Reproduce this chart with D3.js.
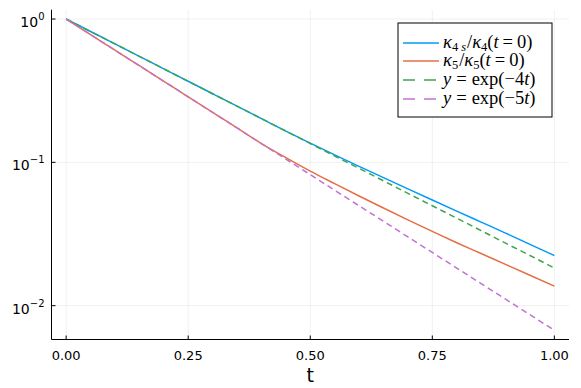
<!DOCTYPE html>
<html>
<head>
<meta charset="utf-8">
<script src="https://cdn.jsdelivr.net/npm/d3@7"></script>
<style>
  body { margin: 0; background: #fff; }
  svg { display: block; }
  .tick-label { font-family: "DejaVu Sans", sans-serif; font-size: 13px; fill: #000; }
  .math { font-family: "Liberation Serif", "DejaVu Serif", serif; font-size: 18.5px; fill: #000; }
</style>
</head>
<body>
<div id="chart"></div>
<script>
// sample times
const tValues = [0, 0.05, 0.1, 0.15, 0.2, 0.25, 0.3, 0.35, 0.4, 0.45, 0.5,
  0.55, 0.6, 0.65, 0.7, 0.75, 0.8, 0.85, 0.9, 0.95, 1.0];

// kappa_4s / kappa_4(t=0)
const kappa4s = [1, 0.8187, 0.6703, 0.5488, 0.4493, 0.3679, 0.3012, 0.2466, 0.2019, 0.1653, 0.1361,
  0.1127, 0.0938, 0.0782, 0.0653, 0.0546, 0.0457, 0.0383, 0.0321, 0.0268, 0.0224];

// kappa_5 / kappa_5(t=0)
const kappa5 = [1, 0.7788, 0.6065, 0.4724, 0.3679, 0.2865, 0.2231, 0.1738, 0.1353, 0.1079, 0.0869,
  0.0710, 0.0582, 0.0480, 0.0397, 0.0330, 0.0275, 0.0231, 0.0194, 0.0163, 0.0137];

// y = exp(-4t)
const exp4 = [1, 0.8187, 0.6703, 0.5488, 0.4493, 0.3679, 0.3012, 0.2466, 0.2019, 0.1653, 0.1353,
  0.1108, 0.0907, 0.0743, 0.0608, 0.0498, 0.0408, 0.0334, 0.0273, 0.0224, 0.0183];

// y = exp(-5t)
const exp5 = [1, 0.7788, 0.6065, 0.4724, 0.3679, 0.2865, 0.2231, 0.1738, 0.1353, 0.1054, 0.0821,
  0.0639, 0.0498, 0.0388, 0.0302, 0.0235, 0.0183, 0.01426, 0.0111, 0.00865, 0.00674];

const xTicks = [0, 0.25, 0.5, 0.75, 1.0];
const xTickLabels = ['0.00', '0.25', '0.50', '0.75', '1.00'];
const yTicks = [1, 0.1, 0.01];
const yTickExps = ['0', '\u22121', '\u22122'];

const W = 581, H = 388;
const pLeft = 51.5, pRight = 569, pTop = 9.7, pBottom = 339.5;

const svg = d3.select('#chart').append('svg')
  .attr('width', W).attr('height', H);

const x = d3.scaleLinear().domain([-0.03, 1.03]).range([pLeft, pRight]);
const y = d3.scaleLog().domain([Math.pow(10, -2.236), Math.pow(10, 0.065)]).range([pBottom, pTop]);

// grid
svg.append('g').selectAll('line')
  .data(xTicks).enter().append('line')
  .attr('x1', d => x(d)).attr('x2', d => x(d))
  .attr('y1', pTop).attr('y2', pBottom)
  .attr('stroke', '#000').attr('stroke-opacity', 0.1).attr('stroke-width', 0.6);
svg.append('g').selectAll('line')
  .data(yTicks).enter().append('line')
  .attr('x1', pLeft).attr('x2', pRight)
  .attr('y1', d => y(d)).attr('y2', d => y(d))
  .attr('stroke', '#000').attr('stroke-opacity', 0.1).attr('stroke-width', 0.6);

// axes
svg.append('line').attr('x1', pLeft).attr('x2', pLeft).attr('y1', pTop).attr('y2', pBottom)
  .attr('stroke', '#000').attr('stroke-width', 1);
svg.append('line').attr('x1', pLeft).attr('x2', pRight).attr('y1', pBottom).attr('y2', pBottom)
  .attr('stroke', '#000').attr('stroke-width', 1);

// ticks (inward)
svg.append('g').selectAll('line')
  .data(xTicks).enter().append('line')
  .attr('x1', d => x(d)).attr('x2', d => x(d))
  .attr('y1', pBottom).attr('y2', pBottom - 4)
  .attr('stroke', '#000');
svg.append('g').selectAll('line')
  .data(yTicks).enter().append('line')
  .attr('x1', pLeft).attr('x2', pLeft + 4)
  .attr('y1', d => y(d)).attr('y2', d => y(d))
  .attr('stroke', '#000');

// tick labels
svg.append('g').selectAll('text')
  .data(xTicks).enter().append('text')
  .attr('class', 'tick-label')
  .attr('x', d => x(d)).attr('y', pBottom + 20)
  .attr('text-anchor', 'middle')
  .text((d, i) => xTickLabels[i]);

const yl = svg.append('g').selectAll('text')
  .data(yTicks).enter().append('text')
  .attr('class', 'tick-label')
  .attr('x', pLeft - 7).attr('y', d => y(d) + 8)
  .attr('text-anchor', 'end');
yl.append('tspan').style('font-size', '14px').text('10');
yl.append('tspan').attr('dy', -7).style('font-size', '10px').text((d, i) => yTickExps[i]);

// x label
svg.append('text')
  .attr('x', x(0.5)).attr('y', 382)
  .attr('text-anchor', 'middle')
  .style('font-family', '"DejaVu Sans", sans-serif').style('font-size', '19px')
  .text('t');

// series
svg.append('clipPath').attr('id', 'clip').append('rect')
  .attr('x', pLeft).attr('y', pTop).attr('width', pRight - pLeft).attr('height', pBottom - pTop);

const series = [
  { name: 'k4s', vals: kappa4s, color: '#009AFA', dash: null, lgDash: null },
  { name: 'k5', vals: kappa5, color: '#E36F47', dash: null, lgDash: null },
  { name: 'e4', vals: exp4, color: '#3EA44E', dash: '6,4', lgDash: '12,9' },
  { name: 'e5', vals: exp5, color: '#C371D2', dash: '6,4', lgDash: '12,9' }
];

const line = d3.line()
  .x((d, i) => x(tValues[i]))
  .y(d => y(d))
  .curve(d3.curveMonotoneX);

svg.append('g').attr('clip-path', 'url(#clip)')
  .selectAll('path')
  .data(series).enter().append('path')
  .attr('d', d => line(d.vals))
  .attr('fill', 'none')
  .attr('stroke', d => d.color)
  .attr('stroke-width', 1.5)
  .attr('stroke-dasharray', d => d.dash);

// legend
const lg = svg.append('g').attr('transform', 'translate(398,23)');
lg.append('rect').attr('width', 154).attr('height', 94)
  .attr('fill', '#fff').attr('stroke', '#000').attr('stroke-width', 1);

const rowsY = [20, 38, 57, 76];
series.forEach((s, i) => {
  lg.append('line')
    .attr('x1', 5).attr('x2', 41)
    .attr('y1', rowsY[i]).attr('y2', rowsY[i])
    .attr('stroke', s.color).attr('stroke-width', 1.5)
    .attr('stroke-dasharray', s.lgDash);
});

// one text per legend row; tspans for italics and subscripts
function mathText(g, yy, parts) {
  const t = g.append('text').attr('class', 'math').attr('x', 45).attr('y', yy + 5);
  parts.forEach(p => {
    const ts = t.append('tspan').text(p.s);
    if (p.i) ts.style('font-style', 'italic');
    if (p.sub) ts.style('font-size', '12.5px');
    if (p.dy) ts.attr('dy', p.dy);
    if (p.dx) ts.attr('dx', p.dx);
  });
}

mathText(lg, rowsY[0], [
  { s: '\u03BA', i: 1 }, { s: '4', sub: 1, dy: 3 }, { s: 's', sub: 1, i: 1, dx: 3 },
  { s: '/', dy: -3, dx: 1 }, { s: '\u03BA', i: 1 }, { s: '4', sub: 1, dy: 3 },
  { s: '(', dy: -3 }, { s: 't', i: 1 }, { s: '=', dx: 4 }, { s: '0)', dx: 4 }
]);
mathText(lg, rowsY[1], [
  { s: '\u03BA', i: 1 }, { s: '5', sub: 1, dy: 3 },
  { s: '/', dy: -3, dx: 1 }, { s: '\u03BA', i: 1 }, { s: '5', sub: 1, dy: 3 },
  { s: '(', dy: -3 }, { s: 't', i: 1 }, { s: '=', dx: 4 }, { s: '0)', dx: 4 }
]);
mathText(lg, rowsY[2], [
  { s: 'y', i: 1 }, { s: '=', dx: 5 }, { s: 'exp(\u22124', dx: 5 }, { s: 't', i: 1 }, { s: ')' }
]);
mathText(lg, rowsY[3], [
  { s: 'y', i: 1 }, { s: '=', dx: 5 }, { s: 'exp(\u22125', dx: 5 }, { s: 't', i: 1 }, { s: ')' }
]);
</script>
</body>
</html>
